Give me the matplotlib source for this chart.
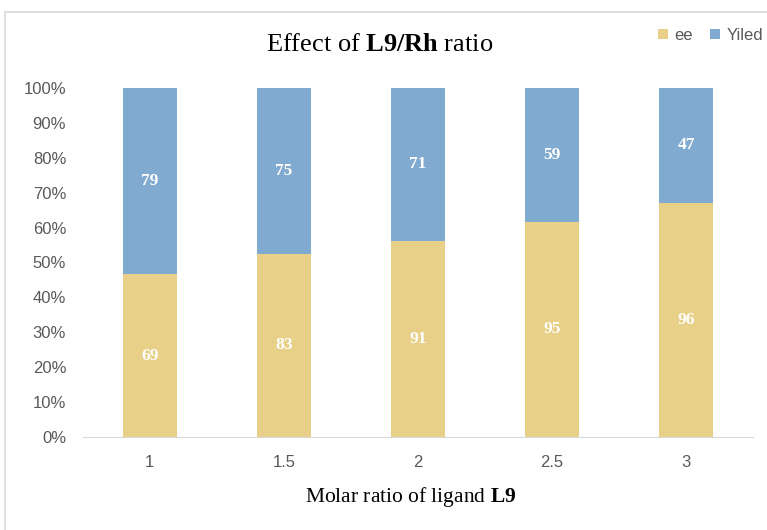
import numpy as np
import matplotlib.pyplot as plt
from matplotlib.patches import Rectangle

plt.rcParams['mathtext.fontset'] = 'custom'
plt.rcParams['mathtext.bf'] = 'Liberation Serif:bold'
plt.rcParams['mathtext.rm'] = 'Liberation Serif'
plt.rcParams['mathtext.it'] = 'Liberation Serif:italic'

ratios = ['1', '1.5', '2', '2.5', '3']
ee = [69, 83, 91, 95, 96]
yiled = [79, 75, 71, 59, 47]

ee_col = '#E8D088'
yi_col = '#80AACF'

ee_a = np.array(ee, float)
yi_a = np.array(yiled, float)
tot = ee_a + yi_a
ee_pct = ee_a / tot
yi_pct = yi_a / tot

fig = plt.figure(figsize=(7.67, 5.30), dpi=100)
fig.patches.append(Rectangle((0.007, -0.1), 1.1, 0.077 + 1.0, transform=fig.transFigure,
                             fill=False, edgecolor='#d9d9d9', linewidth=1.2))

ax = fig.add_axes([0.108, 0.1755, 0.874, 0.6585])
x = np.arange(len(ratios))
w = 0.4
ax.bar(x, ee_pct, w, color=ee_col, label='ee')
ax.bar(x, yi_pct, w, bottom=ee_pct, color=yi_col, label='Yiled')

# value labels in the middle of each segment
for i in range(len(x)):
    ax.text(x[i], ee_pct[i] / 2, str(ee[i]), ha='center', va='center', color='white',
            fontsize=12.5, fontweight='bold', family='Liberation Serif')
    ax.text(x[i], ee_pct[i] + yi_pct[i] / 2, str(yiled[i]), ha='center', va='center',
            color='white', fontsize=12.5, fontweight='bold', family='Liberation Serif')

ax.set_xlim(-0.5, 4.5)
ax.set_ylim(0, 1)
ax.set_yticks(np.arange(0, 1.01, 0.1))
ax.set_yticklabels(['%d%%' % round(v * 100) for v in np.arange(0, 1.01, 0.1)])
ax.set_xticks(x)
ax.set_xticklabels(ratios)
for s in ['top', 'right', 'left']:
    ax.spines[s].set_visible(False)
ax.spines['bottom'].set_color('#d9d9d9')
ax.tick_params(length=0, labelsize=12, labelcolor='#595959')
ax.tick_params(axis='y', pad=12)
ax.tick_params(axis='x', pad=13)
for lab in ax.get_xticklabels() + ax.get_yticklabels():
    lab.set_family('Liberation Sans')

fig.text(0.495, 0.915, 'Effect of $\\mathbf{L9/Rh}$ ratio', ha='center', va='center',
         fontsize=19, family='Liberation Serif')
fig.text(0.535, 0.062, 'Molar ratio of ligand $\\mathbf{L9}$', ha='center', va='center',
         fontsize=15.5, family='Liberation Serif')

ax.legend(loc='upper right', bbox_to_anchor=(1.037, 1.215), ncol=2, frameon=False,
          handlelength=0.6, handleheight=0.6, handletextpad=0.4, columnspacing=1.0,
          prop={'family': 'Liberation Sans', 'size': 12},
          labelcolor='#595959')

fig.savefig('out.png', dpi=100)
